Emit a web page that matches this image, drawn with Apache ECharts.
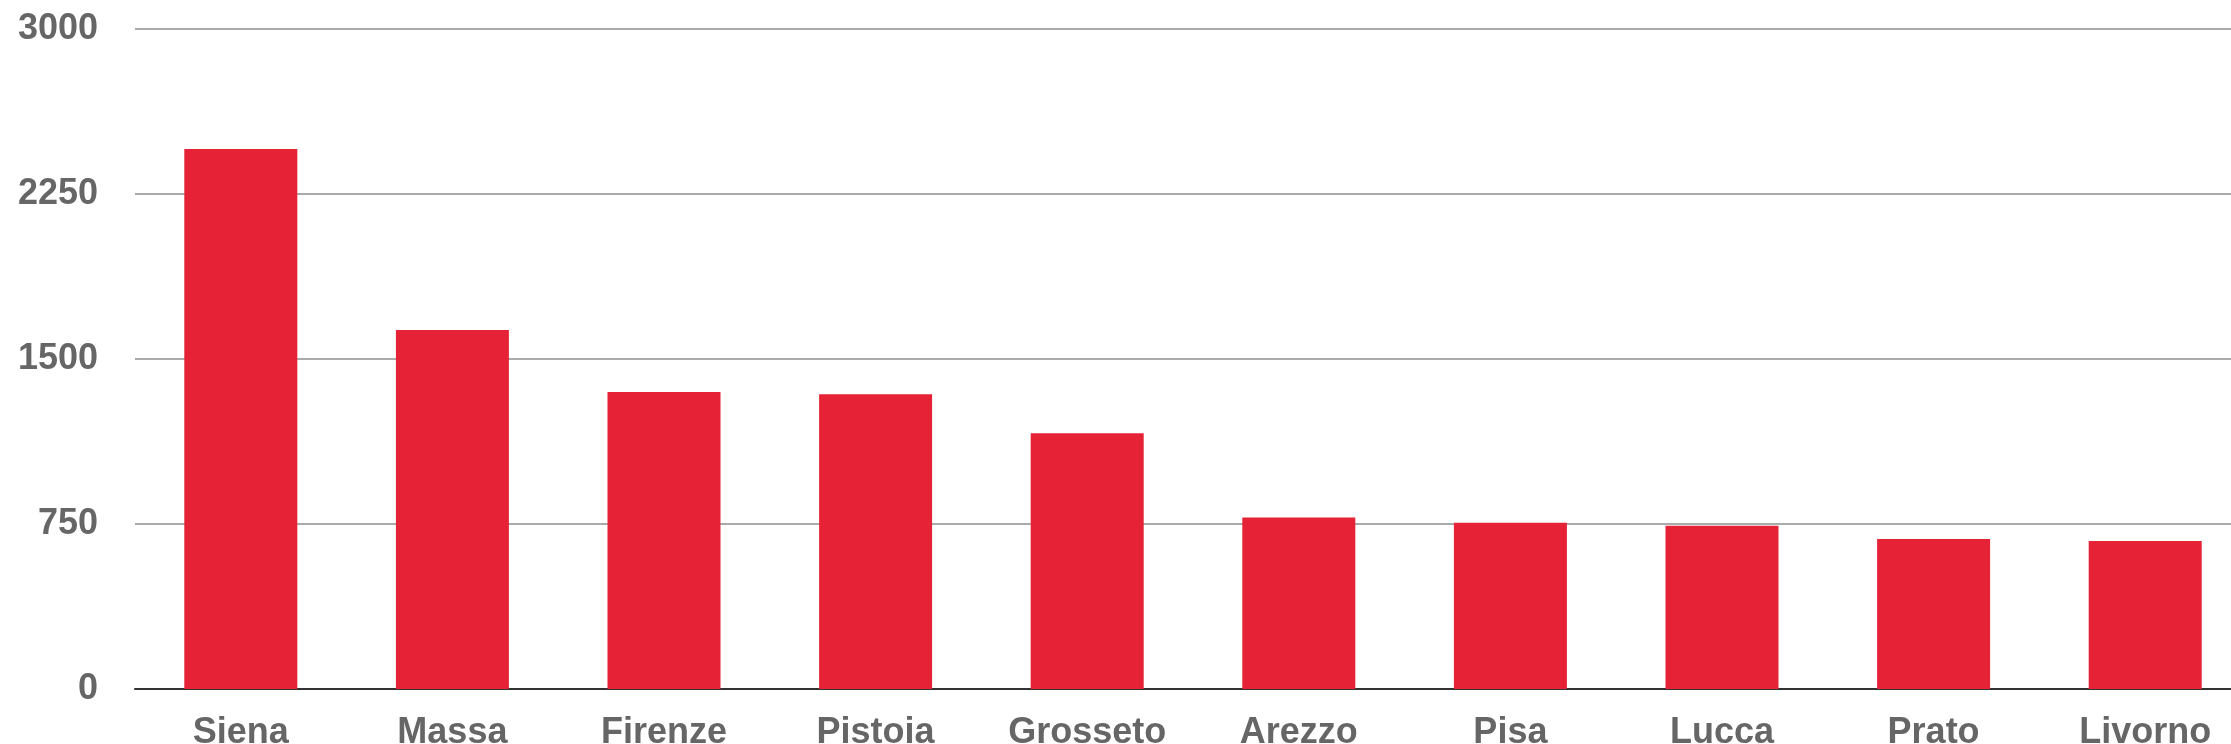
<!DOCTYPE html>
<html>
<head>
<meta charset="utf-8">
<script src="https://cdn.jsdelivr.net/npm/echarts@6/dist/echarts.min.js"></script>
<style>
html,body{margin:0;padding:0;background:#fff;}
#chart{width:2231px;height:744px;}
</style>
</head>
<body>
<div id="chart"></div>
<script>
var categories = ['Siena','Massa','Firenze','Pistoia','Grosseto','Arezzo','Pisa','Lucca','Prato','Livorno'];
var values = [2455, 1632, 1350, 1340, 1163, 779, 756, 742, 682, 673];
var yTicks = [0, 750, 1500, 2250, 3000];

var chart = echarts.init(document.getElementById('chart'), null, {renderer:'canvas'});
chart.setOption({
  animation: false,
  backgroundColor: '#fff',
  grid: {left: 135, width: 2116, top: 29, bottom: 55, containLabel: false, outerBoundsMode: 'none'},
  xAxis: {
    type: 'category',
    data: categories,
    axisLine: {show: true, lineStyle: {color: '#333', width: 2}},
    axisTick: {show: false},
    axisLabel: {
      color: '#666', fontSize: 36, fontWeight: 'bold',
      fontFamily: 'Liberation Sans, Arial, sans-serif', margin: 26
    }
  },
  yAxis: {
    type: 'value',
    min: yTicks[0], max: yTicks[yTicks.length-1], interval: 750,
    axisLine: {show: false},
    axisTick: {show: false},
    splitLine: {lineStyle: {color: '#aaa', width: 2}},
    axisLabel: {
      color: '#666', fontSize: 36, fontWeight: 'bold',
      fontFamily: 'Liberation Sans, Arial, sans-serif', margin: 37,
      formatter: function (v) { return String(v); }
    }
  },
  series: [{
    type: 'bar',
    data: values,
    barWidth: 113,
    itemStyle: {color: '#E62336'}
  }]
});
</script>
</body>
</html>
